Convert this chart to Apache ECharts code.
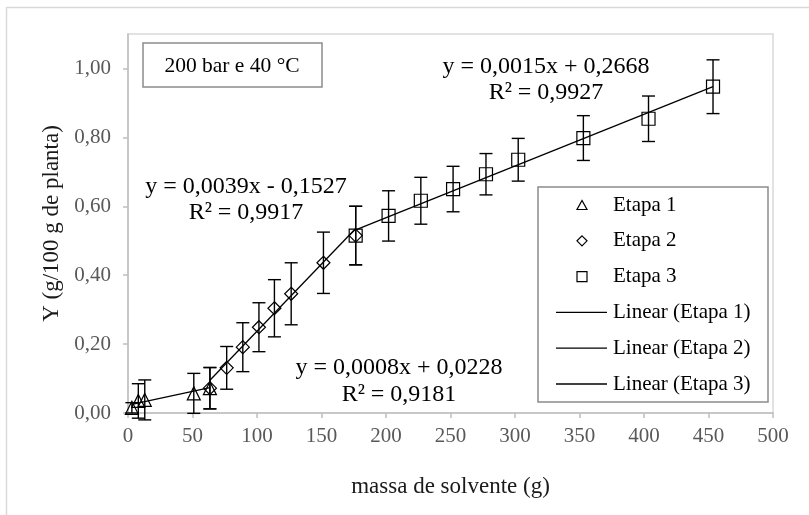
<!DOCTYPE html>
<html>
<head>
<meta charset="utf-8">
<script src="https://cdn.jsdelivr.net/npm/echarts@6/dist/echarts.min.js"></script>
<style>
  html, body { margin: 0; padding: 0; background: #fff; }
  #chart { width: 809px; height: 515px; }
</style>
</head>
<body>
<div id="chart"></div>
<script>
const FONT = "'Liberation Serif', 'Times New Roman', serif";

// Stage 1 (triangles)
const etapa1X = [3, 8, 13, 51, 63.5];
const etapa1Y = [0.015, 0.035, 0.038, 0.057, 0.072];
const etapa1Err = [0.015, 0.05, 0.058, 0.058, 0.06];

// Stage 2 (diamonds)
const etapa2X = [63.5, 76.5, 89, 101.5, 113.5, 126.5, 151.5, 176.5];
const etapa2Y = [0.072, 0.131, 0.191, 0.249, 0.304, 0.346, 0.436, 0.515];
const etapa2Err = [0.06, 0.062, 0.071, 0.071, 0.083, 0.09, 0.089, 0.085];

// Stage 3 (squares)
const etapa3X = [176.5, 202, 227, 252, 277.5, 302.5, 353, 403.5, 453.5];
const etapa3Y = [0.515, 0.572, 0.616, 0.650, 0.693, 0.735, 0.798, 0.854, 0.947];
const etapa3Err = [0.085, 0.073, 0.068, 0.066, 0.06, 0.062, 0.065, 0.066, 0.078];

// Linear trendlines: slope, intercept, R²
const slopes = [0.0008, 0.0039, 0.0015];
const intercepts = [0.0228, -0.1527, 0.2668];
const rSquared = [0.9181, 0.9917, 0.9927];

const stageNames = ['Etapa 1', 'Etapa 2', 'Etapa 3'];
const trendNames = ['Linear (Etapa 1)', 'Linear (Etapa 2)', 'Linear (Etapa 3)'];
const yTicks = [0, 0.2, 0.4, 0.6, 0.8, 1.0];

const stages = [
  { x: etapa1X, y: etapa1Y, e: etapa1Err, symbol: 'triangle' },
  { x: etapa2X, y: etapa2Y, e: etapa2Err, symbol: 'diamond' },
  { x: etapa3X, y: etapa3Y, e: etapa3Err, symbol: 'rect' }
];

const comma = (v, d) => v.toFixed(d).replace('.', ',');

function equationText(i) {
  const b = intercepts[i];
  return 'y = ' + comma(slopes[i], 4) + 'x ' + (b < 0 ? '- ' : '+ ') + comma(Math.abs(b), 4);
}

function errorBars(st, i) {
  return {
    type: 'custom',
    name: 'erro ' + (i + 1),
    silent: true,
    z: 2,
    data: st.x.map((x, k) => [x, st.y[k], st.e[k]]),
    encode: { x: 0, y: 1 },
    renderItem: (params, api) => {
      const x = api.value(0), y = api.value(1), e = api.value(2);
      const top = api.coord([x, y + e]);
      const bot = api.coord([x, y - e]);
      const hw = 6.5;
      const style = { stroke: '#000', lineWidth: 1.4 };
      return {
        type: 'group',
        children: [
          { type: 'line', shape: { x1: top[0], y1: top[1], x2: bot[0], y2: bot[1] }, style },
          { type: 'line', shape: { x1: top[0] - hw, y1: top[1], x2: top[0] + hw, y2: top[1] }, style },
          { type: 'line', shape: { x1: bot[0] - hw, y1: bot[1], x2: bot[0] + hw, y2: bot[1] }, style }
        ]
      };
    }
  };
}

function scatter(st, i) {
  return {
    type: 'scatter',
    name: stageNames[i],
    symbol: st.symbol,
    symbolSize: 13,
    z: 4,
    itemStyle: { color: 'rgba(255,255,255,0)', borderColor: '#000', borderWidth: 1.2, opacity: 1 },
    data: st.x.map((x, k) => [x, st.y[k]])
  };
}

function trend(st, i) {
  const x0 = Math.min(...st.x), x1 = Math.max(...st.x);
  return {
    type: 'line',
    name: trendNames[i],
    symbol: 'none',
    z: 3,
    lineStyle: { color: '#000', width: 1.3 },
    data: [[x0, slopes[i] * x0 + intercepts[i]], [x1, slopes[i] * x1 + intercepts[i]]]
  };
}

const series = [];
stages.forEach((st, i) => series.push(errorBars(st, i)));
stages.forEach((st, i) => series.push(trend(st, i)));
stages.forEach((st, i) => series.push(scatter(st, i)));

// equation annotations: [centre x, equation y, R² y]
const eqPos = [[399, 368, 395], [246, 187, 213], [546, 67, 93]];
const eqGraphics = [];
eqPos.forEach((p, i) => {
  eqGraphics.push({
    type: 'text', x: p[0], y: p[1], z: 10,
    style: { text: equationText(i), font: '24px ' + FONT, fill: '#000', textAlign: 'center', textVerticalAlign: 'middle' }
  });
  eqGraphics.push({
    type: 'text', x: p[0], y: p[2], z: 10,
    style: { text: 'R² = ' + comma(rSquared[i], 4), font: '24px ' + FONT, fill: '#000', textAlign: 'center', textVerticalAlign: 'middle' }
  });
});

// legend box drawn as graphics: hollow symbols for the stages, plain lines for the fits
const legendBox = { x: 538, y: 187, w: 230, h: 215, rowY: 205, rowStep: 35.8, iconX: 582, lineX0: 556, lineX1: 607, textX: 613 };
const legendGraphics = [{
  type: 'rect', z: 20, silent: true,
  shape: { x: legendBox.x, y: legendBox.y, width: legendBox.w, height: legendBox.h },
  style: { fill: '#fff', stroke: '#8c8c8c', lineWidth: 1.5 }
}];
const iconStyle = { fill: 'none', stroke: '#000', lineWidth: 1.2 };
const legendLabels = stageNames.concat(trendNames);
legendLabels.forEach((label, r) => {
  const cy = legendBox.rowY + r * legendBox.rowStep;
  const cx = legendBox.iconX;
  let icon;
  if (r === 0) icon = { type: 'polygon', shape: { points: [[cx - 5, cy + 4.5], [cx + 5, cy + 4.5], [cx, cy - 4.5]] }, style: iconStyle };
  else if (r === 1) icon = { type: 'polygon', shape: { points: [[cx, cy - 5], [cx + 5, cy], [cx, cy + 5], [cx - 5, cy]] }, style: iconStyle };
  else if (r === 2) icon = { type: 'rect', shape: { x: cx - 5, y: cy - 5, width: 10, height: 10 }, style: iconStyle };
  else icon = { type: 'line', shape: { x1: legendBox.lineX0, y1: cy, x2: legendBox.lineX1, y2: cy }, style: { stroke: '#000', lineWidth: 1.3 } };
  icon.z = 21; icon.silent = true;
  legendGraphics.push(icon);
  legendGraphics.push({
    type: 'text', x: legendBox.textX, y: cy, z: 21, silent: true,
    style: { text: label, font: '21px ' + FONT, fill: '#000', textAlign: 'left', textVerticalAlign: 'middle' }
  });
});

const chart = echarts.init(document.getElementById('chart'), null, { renderer: 'canvas' });
chart.setOption({
  animation: false,
  backgroundColor: '#fff',
  textStyle: { fontFamily: FONT },
  grid: {
    left: 128, right: 36, top: 34, bottom: 102,
    show: true, borderColor: '#d9d9d9', borderWidth: 1.5, backgroundColor: 'transparent'
  },
  xAxis: {
    type: 'value', min: 0, max: 500, interval: 50,
    name: 'massa de solvente (g)', nameLocation: 'middle', nameGap: 62,
    nameTextStyle: { fontSize: 23, color: '#1a1a1a', fontFamily: FONT },
    axisLine: { show: true, onZero: false, lineStyle: { color: '#bfbfbf', width: 1.5 } },
    axisTick: { show: true, length: 5, lineStyle: { color: '#bfbfbf', width: 1.5 } },
    axisLabel: { fontSize: 21, color: '#595959', fontFamily: FONT, margin: 13 },
    splitLine: { show: false }
  },
  yAxis: {
    type: 'value', min: 0, max: 1.1, interval: 0.2,
    name: 'Y (g/100 g de planta)', nameLocation: 'middle', nameGap: 63,
    nameTextStyle: { fontSize: 23, color: '#1a1a1a', fontFamily: FONT },
    axisLine: { show: true, onZero: false, lineStyle: { color: '#bfbfbf', width: 1.5 } },
    axisTick: { show: true, length: 5, lineStyle: { color: '#bfbfbf', width: 1.5 }, customValues: yTicks },
    axisLabel: {
      fontSize: 21, color: '#595959', fontFamily: FONT, margin: 17,
      customValues: yTicks,
      formatter: v => (yTicks.some(t => Math.abs(t - v) < 1e-9) ? comma(v, 2) : '')
    },
    splitLine: { show: false }
  },
  graphic: [
    {
      type: 'rect', left: 4, top: 5, z: -10, silent: true,
      shape: { width: 900, height: 600 },
      style: { fill: 'none', stroke: '#d9d9d9', lineWidth: 1.5 }
    },
    {
      type: 'rect', z: 10, silent: true,
      shape: { x: 143, y: 43, width: 179, height: 44 },
      style: { fill: '#fff', stroke: '#8c8c8c', lineWidth: 1.5 }
    },
    {
      type: 'text', x: 232, y: 66, z: 11,
      style: { text: '200 bar e 40 °C', font: '21.5px ' + FONT, fill: '#000', textAlign: 'center', textVerticalAlign: 'middle' }
    }
  ].concat(eqGraphics, legendGraphics),
  series: series
});
</script>
</body>
</html>
